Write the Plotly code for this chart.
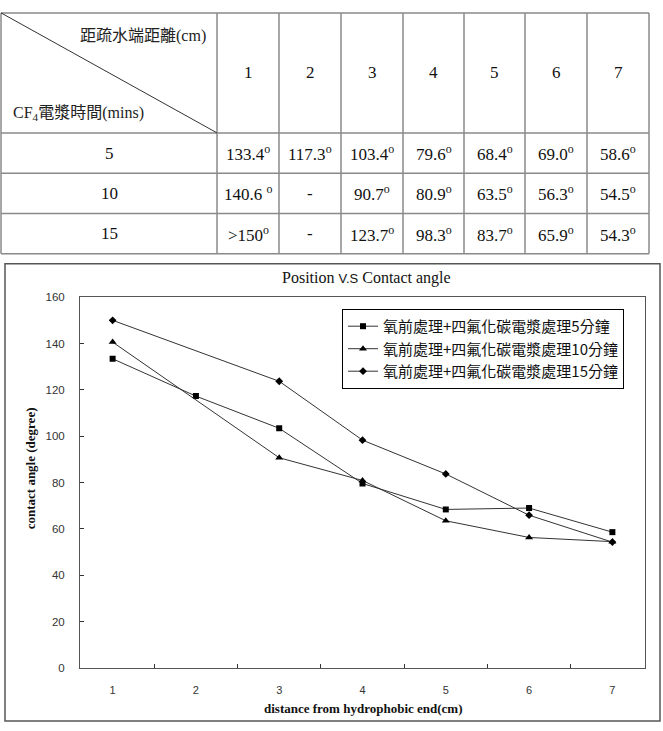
import plotly.graph_objects as go

W, H = 663, 731

# ---------------- data ----------------
positions = [1, 2, 3, 4, 5, 6, 7]
pos_labels = ["1", "2", "3", "4", "5", "6", "7"]
times = ["5", "10", "15"]
angle_5 = [133.4, 117.3, 103.4, 79.6, 68.4, 69.0, 58.6]
angle_10 = [140.6, None, 90.7, 80.9, 63.5, 56.3, 54.5]
angle_15 = [150.0, None, 123.7, 98.3, 83.7, 65.9, 54.3]
table_5 = ["133.4<sup>o</sup>", "117.3<sup>o</sup>", "103.4<sup>o</sup>", "79.6<sup>o</sup>", "68.4<sup>o</sup>", "69.0<sup>o</sup>", "58.6<sup>o</sup>"]
table_10 = ["140.6 <sup>o</sup>", "-", "90.7<sup>o</sup>", "80.9<sup>o</sup>", "63.5<sup>o</sup>", "56.3<sup>o</sup>", "54.5<sup>o</sup>"]
table_15 = [">150<sup>o</sup>", "-", "123.7<sup>o</sup>", "98.3<sup>o</sup>", "83.7<sup>o</sup>", "65.9<sup>o</sup>", "54.3<sup>o</sup>"]
series_names = ["氧前處理+四氟化碳電漿處理5分鐘", "氧前處理+四氟化碳電漿處理10分鐘", "氧前處理+四氟化碳電漿處理15分鐘"]
y_ticks = [0, 20, 40, 60, 80, 100, 120, 140, 160]


def px(x):
    return x / W


def py(y):
    return 1 - y / H


SERIF = "Liberation Serif"
CJK = "Noto Sans CJK TC"

fig = go.Figure()

# ---------------- chart ----------------
symbols = ["square", "triangle-up", "diamond"]
sizes = [6, 7, 6]
for name, vals, sym, sz in zip(series_names, [angle_5, angle_10, angle_15], symbols, sizes):
    fig.add_trace(go.Scatter(
        x=pos_labels, y=vals, name=name, mode="lines+markers",
        connectgaps=True,
        line=dict(color="#333", width=1),
        marker=dict(symbol=sym, size=sz, color="#000"),
    ))

fig.update_layout(
    width=W, height=H, margin=dict(l=0, r=0, t=0, b=0),
    paper_bgcolor="white", plot_bgcolor="white",
    showlegend=True,
    legend=dict(x=px(342), y=py(308), xanchor="left", yanchor="top",
                bordercolor="#000", borderwidth=1, bgcolor="white",
                font=dict(family=CJK, size=15, color="#111"),
                itemwidth=30),
    xaxis=dict(domain=[px(80), px(645)], type="category", tickson="boundaries",
               ticks="inside", ticklen=4, tickcolor="#333",
               showline=True, linecolor="#555", mirror=True, showgrid=False,
               tickfont=dict(family="Liberation Sans", size=11, color="#333"),
               ticklabelstandoff=12, zeroline=False),
    yaxis=dict(domain=[py(673), py(296)], range=[0, 160], tickvals=y_ticks,
               ticks="inside", ticklen=4, tickcolor="#333",
               showline=True, linecolor="#555", mirror=True, showgrid=False,
               tickfont=dict(family="Liberation Sans", size=11.5, color="#333"),
               ticklabelstandoff=12, zeroline=False),
)

# ---------------- table (grid + text) ----------------
col_edges = [1, 217, 279, 341, 403, 464, 525, 587, 649]
row_edges = [7, 129, 170, 211, 252]
LINE = dict(color="#8a8a8a", width=1.5)
shapes = []
for xe in col_edges:
    shapes.append(dict(type="line", xref="paper", yref="paper", x0=px(xe), x1=px(xe),
                       y0=py(row_edges[0]), y1=py(row_edges[-1]), line=LINE))
for ye in row_edges:
    shapes.append(dict(type="line", xref="paper", yref="paper", x0=px(col_edges[0]), x1=px(col_edges[-1]),
                       y0=py(ye), y1=py(ye), line=LINE))
shapes.append(dict(type="line", xref="paper", yref="paper", x0=px(1), y0=py(7), x1=px(217), y1=py(129),
                   line=dict(color="#333", width=1)))
# chart frame
shapes.append(dict(type="rect", xref="paper", yref="paper", x0=px(5), y0=py(262), x1=px(660), y1=py(727),
                   line=dict(color="#555", width=1.5)))
fig.update_layout(shapes=shapes)

TFONT = dict(family=SERIF, size=17, color="#111")
annotations = []
col_centers = [(col_edges[i] + col_edges[i + 1]) / 2 for i in range(len(col_edges) - 1)]
row_centers = [(row_edges[i] + row_edges[i + 1]) / 2 for i in range(len(row_edges) - 1)]
for i, lab in enumerate(pos_labels):
    annotations.append(dict(text=lab, x=px(col_centers[i + 1]), y=py(row_centers[0]), font=TFONT))
for r, (t, rowvals) in enumerate(zip(times, [table_5, table_10, table_15])):
    annotations.append(dict(text=t, x=px(col_centers[0]), y=py(row_centers[r + 1]), font=TFONT))
    for i, v in enumerate(rowvals):
        annotations.append(dict(text=v, x=px(col_centers[i + 1]), y=py(row_centers[r + 1]), font=TFONT))

annotations += [
    dict(text="距疏水端距離<span style='font-family:Liberation Serif'>(cm)</span>", x=px(208), y=py(28),
         xanchor="right", font=dict(family=CJK, size=16, color="#222")),
    dict(text="<span style='font-family:Liberation Serif'>CF<sub>4</sub></span>電漿時間<span style='font-family:Liberation Serif'>(mins)</span>",
         x=px(11), y=py(107), xanchor="left", font=dict(family=CJK, size=16, color="#222")),
    dict(text="Position <span style='font-family:Liberation Sans;font-size:13px'>V.S</span> Contact angle",
         x=px(366), y=py(277), font=dict(family=SERIF, size=16, color="#111")),
    dict(text="<b>contact angle (degree)</b>", x=px(30), y=py(470), textangle=-90,
         font=dict(family=SERIF, size=13, color="#111")),
    dict(text="<b>distance from hydrophobic end(cm)</b>", x=px(363), y=py(714),
         font=dict(family=SERIF, size=13, color="#111")),
]
for a in annotations:
    a.setdefault("xanchor", "center")
    a.update(xref="paper", yref="paper", showarrow=False, yanchor="middle")
fig.update_layout(annotations=annotations)

fig.write_html("out.html")
